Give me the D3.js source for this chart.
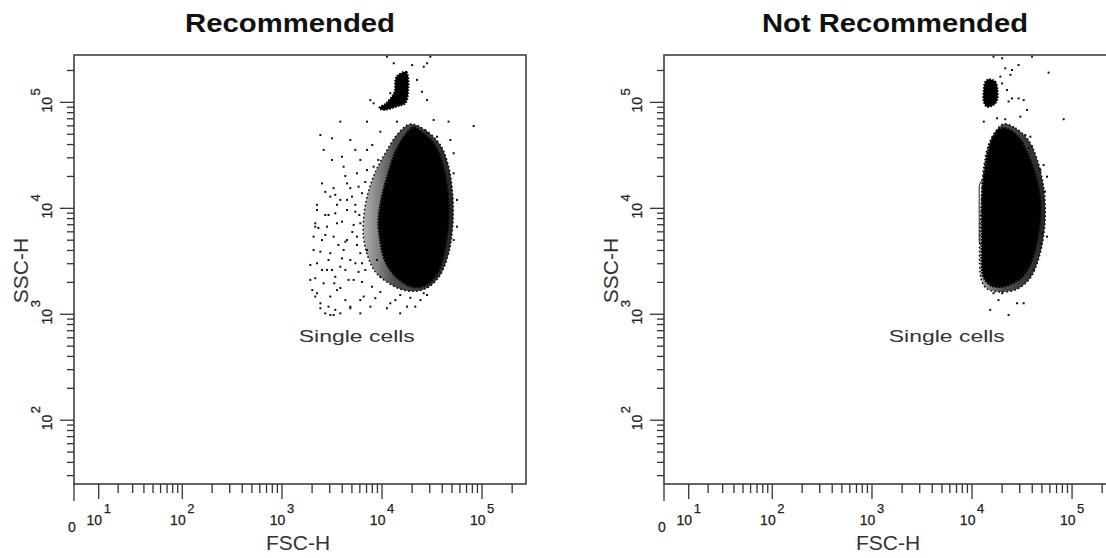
<!DOCTYPE html>
<html>
<head>
<meta charset="utf-8">
<script src="https://cdn.jsdelivr.net/npm/d3@7"></script>
<style>
  body { margin: 0; background: #fff; }
  svg { display: block; }
  text { font-family: "Liberation Sans", Arial, sans-serif; fill: #222; }
  .title { font-weight: bold; font-size: 26px; fill: #111; }
  .axis-label { font-size: 21px; fill: #333; }
  .tick-label { font-size: 14px; stroke: #222; stroke-width: 0.25px; }
  .gate-label { font-size: 16px; fill: #333; }
</style>
</head>
<body>
<svg id="chart" width="1106" height="558"></svg>
<script>
// ---- data (FSC-H, SSC-H) ----
const panelTitles = ["Recommended", "Not Recommended"];
const gateName = "Single cells";
const gateLabelPos = [5600, 550];

const xMajorTicks = [0, 10, 100, 1000, 10000, 100000];
const yMajorTicks = [100, 1000, 10000, 100000];

// dense core of the singlet population (outline)
const leftCore = [[20700,58000],[24200,52900],[30400,44200],[36800,33100],[41300,23000],[44700,14900],
  [46300,8970],[44700,5810],[41300,3770],[36800,2620],[30400,2030],[24200,1820],[19200,1850],[15200,2110],
  [12100,2620],[10400,3500],[9620,5020],[9250,7220],[9620,10400],[10400,14900],[11600,21400],[13100,30700],
  [15200,41100],[17800,51100]];
// speckled rim around the core
const leftHalo = [[19200,62500],[27100,54900],[38300,39600],[46000,25600],[50500,14900],[51600,8650],
  [49300,5020],[45000,3400],[38300,2350],[30400,1850],[23100,1660],[16300,1690],[11600,1970],[8570,2510],
  [7130,3630],[6500,5600],[6650,9230],[7290,14300],[8570,22000],[10800,33300],[14600,51400]];
// small high-SSC cluster
const leftCluster = [[14100,177000],[17500,194000],[18300,131000],[17100,98000],[14600,92500],[10300,84800],
  [9400,88600],[11000,98000],[13300,125000],[13600,163000]];
// single events
const leftDots = [[11200,270000],[30400,270000],[13100,234000],[20000,225000],[26100,217000],[28200,234000],
  [22400,163000],[25100,126000],[28200,105000],[7640,105000],[8240,98000],[12100,122000],
  [3830,65800],[7080,65800],[14100,65800],[32800,68200],[46300,65800],[82400,59800],
  [2420,49200],[3160,45800],[9620,52900],[28200,51100],[35500,47400],[48200,44200],
  [2610,35600],[3980,30700],[5410,35600],[7080,35600],[52000,33100],
  [3160,28600],[4130,24700],[5620,21400],[7080,23000],[8240,24700],[52000,21400],
  [2510,17200],[3280,15500],[4470,17200],[5830,16000],
  [3040,12900],[3830,12000],[5010,12900],[6310,13900],[56200,12000],[56200,6710],[52000,5020],
  [2240,9640],[2710,8650],[3410,8970],[4470,9640],
  [2150,7220],[2820,6710],[3980,7480],[5200,6970],
  [2070,5400],[2510,5020],[3280,5400],[4470,5020],[5620,5400],
  [2070,4040],[3040,3770],[4130,4040],[6070,3770],
  [2240,3030],[2820,2620],[3830,2810],[5410,3030],[6810,2620],
  [2150,2190],[2610,1960],[3410,2260],[4630,2110],
  [2240,1580],[3040,1470],[2420,1270],[2920,1180],[3410,1100],[4820,1180],
  [8570,1420],[12100,1270],[15200,1520],[26100,1580],[17800,1180],
  [2150,1470],[2420,1140],[2710,1020],[3040,985],[3280,985],[3830,1020],[4820,1140],[6070,1020],
  [7640,1180],[11200,1140],[15200,1020],[21500,1180],[24200,1360],[28200,1520],
  [2240,10800],[2920,8650],[3410,13400],[4470,12000],[5410,9290],[6070,7220],[4300,4840],[7080,4040],
  [2420,3900],[3160,2620],[5200,2110],[7940,1820],[9620,2260],[2150,6710],[2710,5600],[3550,7220],
  [3980,3370],[6310,3030],[1920,2110],[3550,1690],[6550,1470],[8910,3250],
  [4820,15500],[5410,10800],[5930,8650],[5050,5980],[5620,4510],[4820,3250],[5830,2510],[6310,2020],
  [4300,2620],[3660,4510],[2920,3250],[2310,6520],[3550,10800],[2710,14300],[4300,20200],[6070,28600],
  [4820,44200],[8000,39600],[9180,28600],[6810,17700],[1920,2920],[2010,1690],[3830,1770],[6070,1360],
  [9620,1620],[13600,1360],[19200,1430],[4300,1360],[2510,2620],[3330,1960]];

const rightCore = [[20700,57000],[25100,52900],[30400,44200],[35500,33100],[41300,23000],[46300,14900],
  [48200,9640],[46300,6250],[43000,4350],[38300,3030],[31600,2260],[25100,1960],[19200,1820],[15200,1890],
  [13100,2260],[12600,3030],[12600,5020],[12600,10400],[12900,17200],[13600,24700],[14700,35600],
  [16400,47400],[18400,54900]];
const rightHalo = [[20600,62500],[27100,57300],[36600,44200],[45000,28600],[51600,16600],[54100,9230],
  [51600,5250],[46000,3250],[38300,2200],[28400,1730],[19200,1620],[14200,1730],[12400,2110],[12400,12000],
  [13000,23000],[14600,39600],[17100,52900]];
const rightCluster = [[14700,165000],[17100,157000],[18000,131000],[17800,105000],[16400,94500],
  [14100,91000],[13100,102000],[13100,131000],[13600,157000]];
const rightDots = [[16400,270000],[20000,261000],[39800,270000],[21500,210000],[25100,202000],[29200,225000],
  [58300,191000],[19200,175000],[24200,182000],[20000,151000],[22400,131000],[25100,109000],[29200,109000],
  [32800,105000],[23200,102000],[35500,84800],[30400,73300],[13100,65800],[17800,70800],[21500,69300],
  [82400,69300],[34100,49200],[38300,47400],[36800,36900],[39800,38200],[52000,25600],[48200,23000],
  [56200,19900],[53700,14400],[50100,5810],[56200,5400],[48200,4680],[41300,2620],[16400,1580],
  [20000,1580],[18400,1360],[28200,1270],[32800,1270],[15200,1100],[23200,985]];
// visible piece of the "Single cells" gate boundary
const rightGate = [[12500,18500],[11800,16300],[11800,4810],[12500,4410]];

// ---- layout ----
const TOP = 55, W = 452, H = 429;
const xMax = 275000, asinhK = 0.06;
const yDomain = [25, 280000];

const panels = [
  { left: 74,  title: panelTitles[0], titleX: 216, titleLen: 210,
    core: leftCore, halo: leftHalo, cluster: leftCluster, dots: leftDots, gate: [] },
  { left: 664, title: panelTitles[1], titleX: 231, titleLen: 266,
    core: rightCore, halo: rightHalo, cluster: rightCluster, dots: rightDots, gate: rightGate }
];

// FSC axis is log-like with a compressed region near zero (arcsinh display)
const xLin = d3.scaleLinear().domain([0, Math.asinh(asinhK * xMax)]).range([0, W]);
const x = v => xLin(Math.asinh(asinhK * v));
const y = d3.scaleLog().domain(yDomain).range([H, 0]);

// minor ticks 2..9 x 10^k
const xMinor = [], yMinor = [];
[1, 2, 3, 4, 5].forEach(function (k) {
  d3.range(2, 10).forEach(function (m) {
    const v = m * Math.pow(10, k);
    if (v <= xMax) xMinor.push(v);
    if (v >= yDomain[0] && v <= yDomain[1]) yMinor.push(v);
  });
});

const shape = d3.line()
  .x(d => x(d[0]))
  .y(d => y(d[1]))
  .curve(d3.curveCatmullRomClosed.alpha(0.5));

const gateLine = d3.line().x(d => x(d[0])).y(d => y(d[1]));

function powerLabel(sel, v) {
  sel.append('tspan').text('10');
  sel.append('tspan').attr('dx', 1.5).attr('dy', -12).attr('font-size', 13)
    .text(Math.round(Math.log10(v)));
}

const svg = d3.select('#chart');

// rim density fades out towards low FSC
const grad = svg.append('defs').append('linearGradient')
  .attr('id', 'rim').attr('x1', 0).attr('x2', 1).attr('y1', 0).attr('y2', 0);
grad.append('stop').attr('offset', '0%').attr('stop-color', '#000').attr('stop-opacity', 0.3);
grad.append('stop').attr('offset', '35%').attr('stop-color', '#000').attr('stop-opacity', 0.7);
grad.append('stop').attr('offset', '100%').attr('stop-color', '#000').attr('stop-opacity', 0.85);

panels.forEach(function (p) {
  const g = svg.append('g').attr('transform', 'translate(' + p.left + ',' + TOP + ')');

  g.append('text')
    .attr('class', 'title')
    .attr('x', p.titleX).attr('y', -23)
    .attr('text-anchor', 'middle')
    .attr('textLength', p.titleLen).attr('lengthAdjust', 'spacingAndGlyphs')
    .text(p.title);

  // events
  g.append('path').datum(p.halo).attr('d', shape)
    .attr('fill', 'url(#rim)')
    .attr('stroke', '#000').attr('stroke-width', 1.5).attr('stroke-dasharray', '1.5 2.5');
  g.append('path').datum(p.core).attr('d', shape)
    .attr('fill', '#000').attr('stroke', '#000')
    .attr('stroke-width', 2.5).attr('stroke-dasharray', '2 1');
  g.append('path').datum(p.cluster).attr('d', shape)
    .attr('fill', '#000').attr('stroke', '#000')
    .attr('stroke-width', 2).attr('stroke-dasharray', '1.5 1.5');
  g.selectAll('rect.dot').data(p.dots).join('rect')
    .attr('class', 'dot')
    .attr('x', d => x(d[0]) - 1).attr('y', d => y(d[1]) - 1)
    .attr('width', 2).attr('height', 2)
    .attr('fill', '#111');

  if (p.gate.length) {
    g.append('path').datum(p.gate).attr('d', gateLine)
      .attr('fill', 'none').attr('stroke', '#222').attr('stroke-width', 1);
  }

  g.append('text')
    .attr('class', 'gate-label')
    .attr('x', x(gateLabelPos[0])).attr('y', y(gateLabelPos[1]))
    .attr('text-anchor', 'middle')
    .attr('textLength', 116).attr('lengthAdjust', 'spacingAndGlyphs')
    .text(gateName);

  // frame
  g.append('rect')
    .attr('width', W).attr('height', H)
    .attr('fill', 'none').attr('stroke', '#333').attr('stroke-width', 1.5);

  // x ticks
  g.selectAll('line.xminor').data(xMinor).join('line')
    .attr('class', 'xminor')
    .attr('x1', x).attr('x2', x).attr('y1', H).attr('y2', H + 9)
    .attr('stroke', '#333').attr('stroke-width', 1.3);
  g.selectAll('line.xmajor').data(xMajorTicks).join('line')
    .attr('class', 'xmajor')
    .attr('x1', x).attr('x2', x).attr('y1', H).attr('y2', d => H + (d === 0 ? 17 : 15))
    .attr('stroke', '#333').attr('stroke-width', 1.3);

  g.selectAll('text.xlab').data(xMajorTicks.filter(d => d > 0)).join('text')
    .attr('class', 'tick-label xlab')
    .attr('x', x).attr('y', H + 41)
    .attr('text-anchor', 'middle')
    .each(function (d) { powerLabel(d3.select(this), d); });
  g.append('text')
    .attr('class', 'tick-label')
    .attr('x', x(0) - 2).attr('y', H + 48)
    .attr('text-anchor', 'middle')
    .text('0');

  // y ticks
  g.selectAll('line.yminor').data(yMinor).join('line')
    .attr('class', 'yminor')
    .attr('x1', -7).attr('x2', 0).attr('y1', y).attr('y2', y)
    .attr('stroke', '#333').attr('stroke-width', 1.3);
  g.selectAll('line.ymajor').data(yMajorTicks).join('line')
    .attr('class', 'ymajor')
    .attr('x1', -14).attr('x2', 0).attr('y1', y).attr('y2', y)
    .attr('stroke', '#333').attr('stroke-width', 1.3);

  g.selectAll('text.ylab').data(yMajorTicks).join('text')
    .attr('class', 'tick-label ylab')
    .attr('transform', d => 'translate(-22,' + (y(d) - 2) + ') rotate(-90)')
    .attr('text-anchor', 'middle')
    .each(function (d) { powerLabel(d3.select(this), d); });

  // axis titles
  g.append('text')
    .attr('class', 'axis-label')
    .attr('x', 224).attr('y', H + 66)
    .attr('text-anchor', 'middle')
    .text('FSC-H');
  g.append('text')
    .attr('class', 'axis-label')
    .attr('transform', 'translate(-46,' + (H / 2 + 1) + ') rotate(-90)')
    .attr('text-anchor', 'middle')
    .text('SSC-H');
});
</script>
</body>
</html>
